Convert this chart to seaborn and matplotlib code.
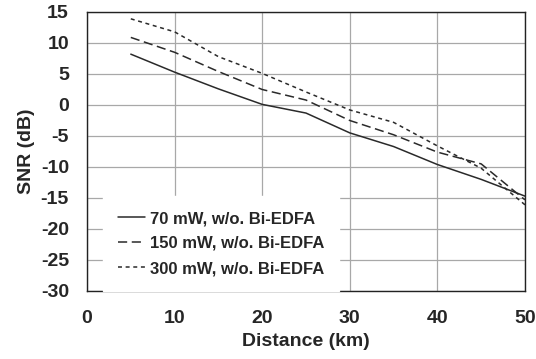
import matplotlib
matplotlib.use("Agg")
import matplotlib.pyplot as plt
import seaborn as sns
import pandas as pd

distance = [5, 10, 15, 20, 25, 30, 35, 40, 45, 50]
snr_70 = [8.2, 5.3, 2.6, 0.1, -1.3, -4.5, -6.7, -9.6, -12.0, -14.7]
snr_150 = [10.9, 8.5, 5.4, 2.5, 0.8, -2.5, -4.8, -7.6, -9.5, -15.3]
snr_300 = [13.9, 11.8, 7.8, 5.1, 2.1, -0.8, -2.8, -6.6, -10.2, -16.1]
labels = ["70 mW, w/o. Bi-EDFA", "150 mW, w/o. Bi-EDFA", "300 mW, w/o. Bi-EDFA"]

df = pd.concat([
    pd.DataFrame({"Distance": distance, "SNR": s, "series": lab})
    for s, lab in zip([snr_70, snr_150, snr_300], labels)
])

sns.set_style("white")
plt.rcParams["font.family"] = ["Liberation Sans", "DejaVu Sans"]
plt.rcParams["font.weight"] = "bold"
plt.rcParams["axes.unicode_minus"] = False

fig = plt.figure(figsize=(5.36, 3.59), dpi=100)
ax = fig.add_axes([87/536, 1 - 291/359, (525-87)/536, (291-12)/359])

dashes = {labels[0]: None, labels[1]: (6, 3), labels[2]: (2.6, 2.4)}
for lab in labels:
    sub = df[df.series == lab]
    sns.lineplot(data=sub, x="Distance", y="SNR", ax=ax, color="#2a2a2a",
                 linewidth=1.1, label=lab)
    l = ax.get_lines()[-1]
    if dashes[lab] is not None:
        l.set_dashes(dashes[lab])

ax.set_xlim(0, 50)
ax.set_ylim(-30, 15)
ax.set_xticks(range(0, 51, 10))
ax.set_yticks(range(-30, 16, 5))
ax.grid(True, color="#a8a8a8", linewidth=0.9)
ax.tick_params(direction="in", length=4, width=1, labelsize=14)
ax.tick_params(axis="x", pad=14)
ax.tick_params(axis="y", pad=13)
for t in ax.get_xticklabels() + ax.get_yticklabels():
    t.set_fontweight("bold")
for s in ax.spines.values():
    s.set_color("#222222")
    s.set_linewidth(1.0)
ax.set_xlabel("Distance (km)", fontsize=14, fontweight="bold", labelpad=4)
ax.set_ylabel("SNR (dB)", fontsize=14, fontweight="bold", labelpad=4)

leg = ax.legend(loc="lower left", bbox_to_anchor=(16/438, 0.0), frameon=True,
                fontsize=12, handlelength=1.6, handletextpad=0.3,
                labelspacing=0.6, borderaxespad=0.0, borderpad=0.9)
leg.get_frame().set_edgecolor("white")
leg.get_frame().set_facecolor("white")
leg.get_frame().set_alpha(1)
leg.get_frame().set_boxstyle("square", pad=0)
for t in leg.get_texts():
    t.set_fontweight("bold")

fig.savefig("out.png", dpi=100)
